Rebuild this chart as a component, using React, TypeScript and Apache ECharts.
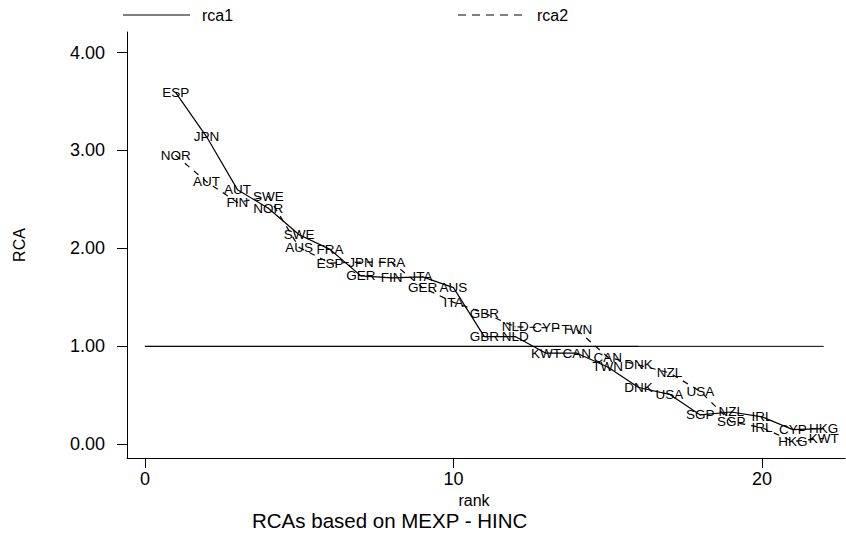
import React, { useEffect, useRef } from "react";
import * as echarts from "echarts";

const ranks = [1, 2, 3, 4, 5, 6, 7, 8, 9, 10, 11, 12, 13, 14, 15, 16, 17, 18, 19, 20, 21, 22];

const rca1Countries = ["ESP", "JPN", "AUT", "NOR", "SWE", "FRA", "GER", "FIN", "ITA", "AUS", "GBR", "NLD", "KWT", "CAN", "TWN", "DNK", "USA", "SGP", "NZL", "IRL", "CYP", "HKG"];
const rca1Values = [3.59, 3.14, 2.6, 2.41, 2.14, 1.99, 1.72, 1.7, 1.71, 1.6, 1.1, 1.1, 0.93, 0.93, 0.79, 0.58, 0.51, 0.3, 0.33, 0.28, 0.15, 0.16];

const rca2Countries = ["NOR", "AUT", "FIN", "SWE", "AUS", "ESP", "JPN", "FRA", "GER", "ITA", "GBR", "NLD", "CYP", "TWN", "CAN", "DNK", "NZL", "USA", "SGP", "IRL", "HKG", "KWT"];
const rca2Values = [2.95, 2.68, 2.47, 2.53, 2.01, 1.85, 1.86, 1.86, 1.6, 1.45, 1.34, 1.2, 1.19, 1.17, 0.89, 0.81, 0.73, 0.54, 0.23, 0.17, 0.03, 0.06];

const refLevel = 1;
const refLineA = [0, 22];
const refLineB = [0, 16];

const xTicks = [0, 10, 20];
const yTicks = [0, 1, 2, 3, 4];

const FONT = "'Liberation Sans', Arial, Helvetica, sans-serif";

export default function App() {
  const ref = useRef<HTMLDivElement>(null);
  useEffect(() => {
    if (!ref.current) return;
    const chart = echarts.init(ref.current, undefined, { renderer: "svg" });
    const labelStyle = (names: string[]) => ({
      show: true,
      position: "inside",
      formatter: (p: any) => names[p.dataIndex],
      fontSize: 13.5,
      color: "#000",
      fontFamily: FONT,
    });
    chart.setOption({
      animation: false,
      backgroundColor: "#fff",
      textStyle: { fontFamily: FONT },
      title: {
        text: "RCAs based on MEXP - HINC",
        left: 247,
        top: 505,
        textStyle: { fontSize: 20.5, fontWeight: "normal", color: "#000", fontFamily: FONT },
      },
      grid: { left: 127, right: 1, top: 32, bottom: 78, containLabel: false },
      xAxis: {
        type: "value",
        min: -0.58,
        max: 22.69,
        axisLine: { show: true, onZero: false, lineStyle: { color: "#000", width: 1 } },
        axisTick: { show: true, customValues: xTicks, length: 10, lineStyle: { color: "#000" } },
        axisLabel: { customValues: xTicks, fontSize: 18, color: "#000", margin: 12, fontFamily: FONT },
        splitLine: { show: false },
        name: "rank",
        nameLocation: "middle",
        nameGap: 30,
        nameTextStyle: { fontSize: 16, color: "#000", padding: [0, 24, 0, 0], fontFamily: FONT },
      },
      yAxis: {
        type: "value",
        min: -0.14,
        max: 4.21,
        axisLine: { show: true, onZero: false, lineStyle: { color: "#000", width: 1 } },
        axisTick: { show: true, customValues: yTicks, length: 10, lineStyle: { color: "#000" } },
        axisLabel: {
          customValues: yTicks,
          formatter: (v: number) => v.toFixed(2),
          fontSize: 18,
          color: "#000",
          margin: 22,
          fontFamily: FONT,
        },
        splitLine: { show: false },
        name: "RCA",
        nameLocation: "middle",
        nameRotate: 90,
        nameGap: 100,
        nameTextStyle: { fontSize: 16, color: "#000", fontFamily: FONT },
      },
      graphic: [
        { type: "line", shape: { x1: 123, y1: 15, x2: 190, y2: 15 }, style: { stroke: "#000", lineWidth: 1 } },
        { type: "text", x: 202, y: 15, style: { text: "rca1", fontSize: 16, fill: "#000", fontFamily: FONT, verticalAlign: "middle" } },
        { type: "line", shape: { x1: 458, y1: 15, x2: 524, y2: 15 }, style: { stroke: "#000", lineWidth: 1, lineDash: [8, 6] } },
        { type: "text", x: 537, y: 15, style: { text: "rca2", fontSize: 16, fill: "#000", fontFamily: FONT, verticalAlign: "middle" } },
      ],
      series: [
        {
          name: "ref1",
          type: "line",
          data: refLineA.map((x) => [x, refLevel]),
          symbol: "none",
          lineStyle: { color: "#000", width: 1 },
          silent: true,
          z: 1,
        },
        {
          name: "ref2",
          type: "line",
          data: refLineB.map((x) => [x, refLevel]),
          symbol: "none",
          lineStyle: { color: "#000", width: 1 },
          silent: true,
          z: 1,
        },
        {
          name: "rca1",
          type: "line",
          data: ranks.map((r, i) => [r, rca1Values[i]]),
          symbol: "circle",
          symbolSize: 1,
          showSymbol: true,
          itemStyle: { color: "#000" },
          lineStyle: { color: "#000", width: 1.2, type: "solid" },
          label: labelStyle(rca1Countries),
          z: 3,
        },
        {
          name: "rca2",
          type: "line",
          data: ranks.map((r, i) => [r, rca2Values[i]]),
          symbol: "circle",
          symbolSize: 1,
          showSymbol: true,
          itemStyle: { color: "#000" },
          lineStyle: { color: "#000", width: 1.2, type: [6, 6] },
          label: labelStyle(rca2Countries),
          z: 3,
        },
      ],
    });
    return () => chart.dispose();
  }, []);
  return (
    <div
      ref={ref}
      style={{ position: "absolute", left: 0, top: 0, width: 846, height: 536, background: "#fff" }}
    />
  );
}
